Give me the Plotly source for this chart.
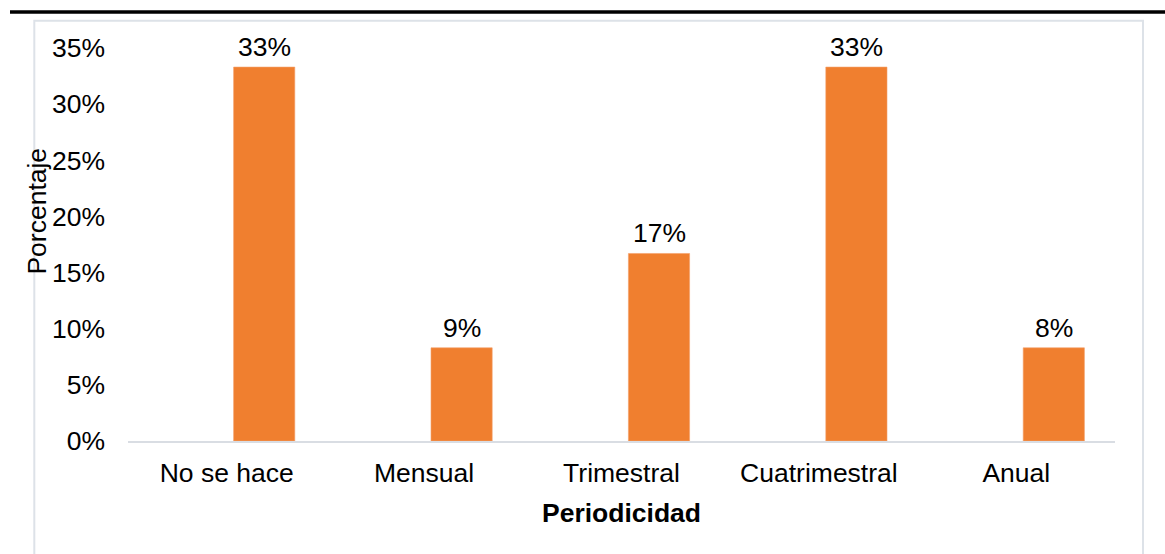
import plotly.graph_objects as go

categories = ["No se hace", "Mensual", "Trimestral", "Cuatrimestral", "Anual"]
values = [0.333, 0.083, 0.167, 0.333, 0.083]
value_labels = ["33%", "9%", "17%", "33%", "8%"]
y_ticks = [0, 0.05, 0.10, 0.15, 0.20, 0.25, 0.30, 0.35]
y_tick_text = ["0%", "5%", "10%", "15%", "20%", "25%", "30%", "35%"]

FONT = "Liberation Sans, Arial, sans-serif"
FS = 26.5

fig = go.Figure()
fig.add_trace(go.Bar(
    x=categories, y=values,
    width=0.31, offset=0.035,
    marker=dict(color="#F07F2F", line=dict(color="#F4A06A", width=0.6)),
    hoverinfo="x+y",
))

annotations = []
for c, v, t in zip(categories, values, value_labels):
    annotations.append(dict(x=c, y=v, xref="x", yref="y", text=t, showarrow=False,
                            xshift=37.5, yshift=20, yanchor="middle",
                            font=dict(family=FONT, size=FS, color="#000000")))
annotations.append(dict(x=0.5, y=-0.184, xref="paper", yref="paper", text="<b>Periodicidad</b>",
                        showarrow=False, yanchor="middle", xanchor="center",
                        font=dict(family=FONT, size=FS, color="#000000")))
annotations.append(dict(x=-0.0917, y=0.585, xref="paper", yref="paper", text="Porcentaje",
                        textangle=-90, showarrow=False, yanchor="middle", xanchor="center",
                        font=dict(family=FONT, size=FS, color="#000000")))

shapes = [
    # outer light frame
    dict(type="rect", xref="paper", yref="paper",
         x0=(34.3 - 128) / 987, x1=(1143 - 128) / 987,
         y0=(441.5 - 600) / 394, y1=(441.5 - 20.3) / 394,
         line=dict(color="#DDE2E8", width=2), fillcolor="rgba(0,0,0,0)", layer="below"),
    # thick black top rule
    dict(type="line", xref="paper", yref="paper",
         x0=(10 - 128) / 987, x1=(1170 - 128) / 987,
         y0=(441.5 - 11.3) / 394, y1=(441.5 - 11.3) / 394,
         line=dict(color="#000000", width=3.5)),
]

fig.update_layout(
    width=1165, height=554,
    margin=dict(l=128, r=50, t=48, b=112.5),
    paper_bgcolor="white", plot_bgcolor="white",
    showlegend=False,
    font=dict(family=FONT, size=FS, color="#000000"),
    annotations=annotations,
    shapes=shapes,
    xaxis=dict(
        type="category", showgrid=False, showline=True, linecolor="#D9DDE3", linewidth=2,
        ticks="", tickfont=dict(family=FONT, size=FS, color="#000000"),
        ticklabelstandoff=7, zeroline=False,
    ),
    yaxis=dict(
        range=[0, 0.35], tickvals=y_ticks, ticktext=y_tick_text,
        showgrid=False, zeroline=False, showline=False, ticks="",
        tickfont=dict(family=FONT, size=FS, color="#000000"),
        ticklabelstandoff=22,
    ),
)

fig.write_html("out.html", config={"displayModeBar": False},
               post_script="document.body.style.margin='0';document.body.style.overflow='hidden';")
